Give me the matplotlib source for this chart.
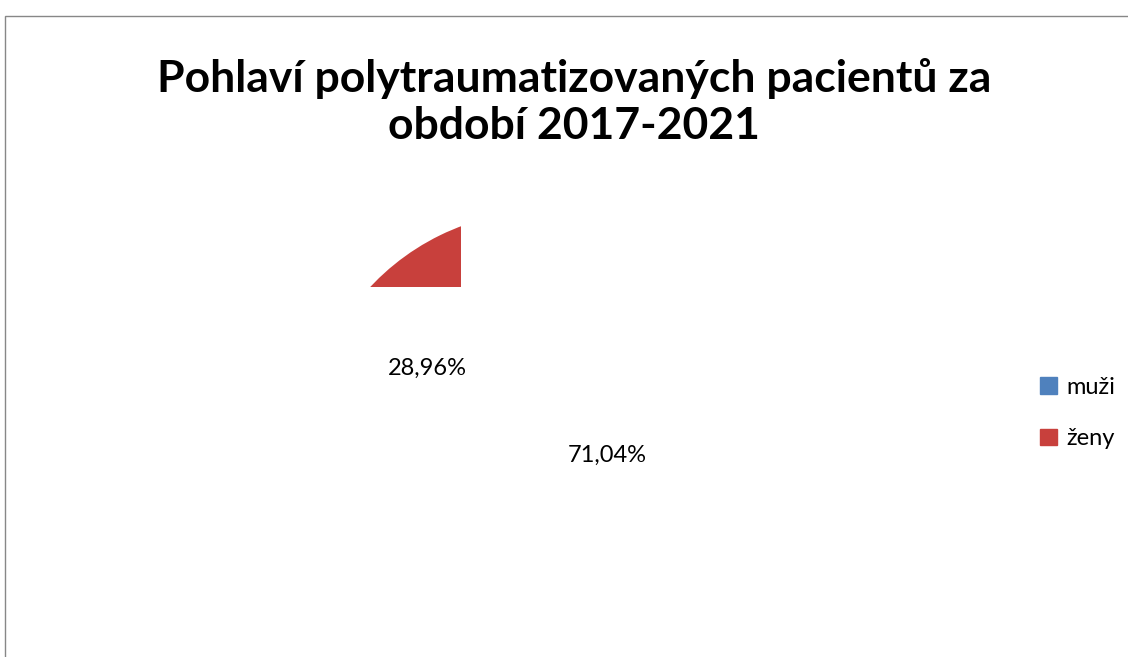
"""
Pie chart: sex of polytrauma patients 2017-2021 (Excel-style, clipped render).
"""

import matplotlib
matplotlib.use("Agg")
import matplotlib.pyplot as plt
from matplotlib.patches import Patch, Rectangle
from matplotlib.transforms import Bbox, TransformedBbox

# ── data ────────────────────────────────────────────────
categories = ["muži", "ženy"]
shares = [71.04, 28.96]
colors = ["#4F81BD", "#C8403C"]
title = "Pohlaví polytraumatizovaných pacientů za\nobdobí 2017-2021"

plt.rcParams["font.family"] = ["Lato", "DejaVu Sans"]

W, H = 1128, 657
fig = plt.figure(figsize=(W / 100, H / 100), dpi=100)
ax = fig.add_axes([0, 0, 1, 1])

# pie, Excel order: starts at 12 o'clock, clockwise
wedges, texts, autotexts = ax.pie(
    shares, colors=colors, startangle=90, counterclock=False,
    center=(545, H - 450), radius=239, frame=True,
    autopct=lambda p: f"{p:.2f}%".replace(".", ","),
    textprops=dict(fontsize=17, color="#000000"),
)
ax.set_xlim(0, W)
ax.set_ylim(0, H)
ax.axis("off")

# chart frame (only top and left edges are visible in the crop)
frame = Rectangle((4.5, -20), W + 40, H - 15.5 + 20, fill=False,
                  edgecolor="#878787", linewidth=1.0)
ax.add_patch(frame)

# only a fragment of the pie got rendered in the original
wedges[0].set_visible(False)
wedges[1].set_clip_path(None)
wedges[1].set_clip_box(TransformedBbox(Bbox([[0, H - 287], [461, H]]),
                                       ax.transData))
wedges[1].set_clip_on(True)

# data labels where Excel put them
label_pos = [(607, H - 455), (427, H - 368)]
for t, (x, y) in zip(autotexts, label_pos):
    t.set_position((x, y))
    t.set_ha("center")
    t.set_va("center")

ax.text(W / 2 + 10, H - 102, title, ha="center", va="center",
        fontsize=32, fontweight="bold", linespacing=1.2)

handles = [Patch(facecolor=c, edgecolor=c) for c in colors]
fig.legend(handles, categories, loc="center left",
           bbox_to_anchor=(1019 / W, 1 - 413 / H), frameon=False,
           fontsize=17, handlelength=0.7, handleheight=0.7,
           handletextpad=0.4, labelspacing=1.3)

fig.savefig("out.png", dpi=100, facecolor="white")
